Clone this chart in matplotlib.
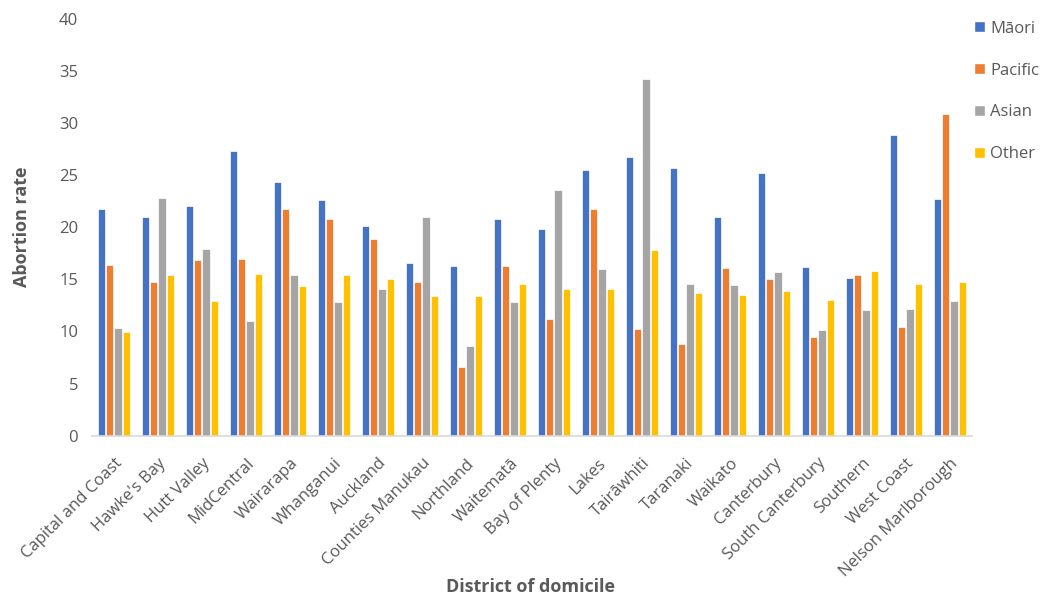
import numpy as np
import matplotlib.pyplot as plt
from matplotlib.patches import Patch

plt.rcParams['font.family'] = ['Open Sans', 'DejaVu Sans']

districts = ["Capital and Coast", "Hawke's Bay", "Hutt Valley", "MidCentral", "Wairarapa",
             "Whanganui", "Auckland", "Counties Manukau", "Northland", "Waitematā",
             "Bay of Plenty", "Lakes", "Tairāwhiti", "Taranaki", "Waikato",
             "Canterbury", "South Canterbury", "Southern", "West Coast", "Nelson Marlborough"]

maori = [21.7, 21.0, 22.0, 27.3, 24.35, 22.6, 20.1, 16.6, 16.3, 20.8,
         19.8, 25.5, 26.7, 25.7, 21.0, 25.2, 16.15, 15.1, 28.8, 22.7]
pacific = [16.4, 14.7, 16.85, 16.95, 21.7, 20.8, 18.9, 14.7, 6.55, 16.3,
           11.2, 21.7, 10.25, 8.8, 16.1, 15.0, 9.45, 15.4, 10.45, 30.9]
asian = [10.35, 22.8, 17.9, 11.0, 15.4, 12.85, 14.05, 20.95, 8.6, 12.85,
         23.55, 16.0, 34.2, 14.55, 14.45, 15.7, 10.15, 12.1, 12.2, 12.95]
other = [9.95, 15.4, 12.9, 15.5, 14.4, 15.4, 15.0, 13.4, 13.4, 14.55,
         14.05, 14.05, 17.85, 13.65, 13.5, 13.85, 13.05, 15.8, 14.55, 14.75]

series = [("Māori", maori, "#4472C4"), ("Pacific", pacific, "#ED7D31"),
          ("Asian", asian, "#A5A5A5"), ("Other", other, "#FFC000")]

grey = "#595959"

fig = plt.figure(figsize=(10.45, 6.01), dpi=100)
ax = fig.add_axes([0.088, 0.275, 0.842, 0.694])

x = np.arange(len(districts))
step = 0.187
width = 0.165
for i, (name, vals, col) in enumerate(series):
    ax.bar(x + (i - 1.5) * step, vals, width, color=col, edgecolor="white", linewidth=0.5, label=name)

ax.set_xlim(-0.5, len(districts) - 0.5)
ax.set_ylim(0, 40)
ax.set_yticks(np.arange(0, 41, 5))
ax.set_xticks(x)
ax.set_xticklabels(districts, rotation=45, ha="right", rotation_mode="anchor")

for s in ["top", "right", "left"]:
    ax.spines[s].set_visible(False)
ax.spines["bottom"].set_color("#D9D9D9")
ax.spines["bottom"].set_linewidth(1.2)
ax.tick_params(axis="both", length=0, colors=grey, labelsize=12)
ax.tick_params(axis="y", pad=10)
ax.tick_params(axis="x", pad=14)

ax.set_ylabel("Abortion rate", fontsize=13, fontweight="bold", color=grey, labelpad=20)
fig.text(0.508, 0.023, "District of domicile", fontsize=13, fontweight="bold", color=grey,
         ha="center", va="center")

handles = [Patch(facecolor=c, edgecolor="white") for _, _, c in series]
leg = fig.legend(handles, [s[0] for s in series], loc="upper left",
                 bbox_to_anchor=(0.929, 0.971), frameon=False, fontsize=12,
                 handlelength=0.65, handleheight=0.65, handletextpad=0.3,
                 labelspacing=1.55, borderpad=0.2, borderaxespad=0)
for t in leg.get_texts():
    t.set_color(grey)

fig.savefig("out.png", dpi=100)
